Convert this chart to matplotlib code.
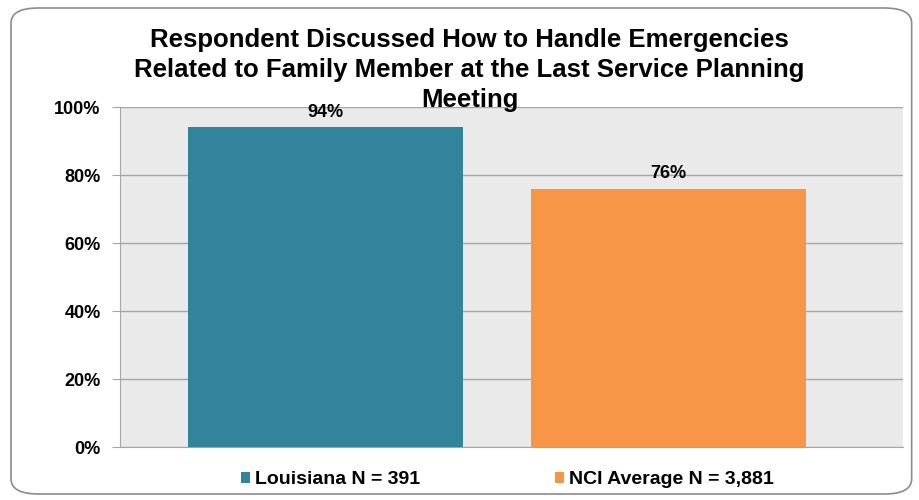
#!/usr/bin/env python3
"""
Emergency planning bar chart
"""
import matplotlib
matplotlib.use('Agg')
import matplotlib.pyplot as plt
from matplotlib.patches import FancyBboxPatch, Patch

series = ['Louisiana N = 391', 'NCI Average N = 3,881']
values = [94, 76]
colors = ['#31849B', '#F79646']
yticks = [0, 20, 40, 60, 80, 100]
title = ('Respondent Discussed How to Handle Emergencies\n'
         'Related to Family Member at the Last Service Planning\n'
         'Meeting')

plt.rcParams['font.family'] = ['Liberation Sans', 'DejaVu Sans']
plt.rcParams['font.weight'] = 'bold'

fig = plt.figure(figsize=(9.19, 5.0), dpi=100)

# rounded outer frame, drawn behind everything
frame = FancyBboxPatch((0.012, 0.012), 0.98, 0.972,
                       boxstyle='round,pad=0,rounding_size=0.03',
                       transform=fig.transFigure, facecolor='none',
                       edgecolor='#8c8c8c', linewidth=1.2, zorder=-5)
fig.patches.append(frame)

ax = fig.add_axes([0.1306, 0.106, 0.852, 0.68])
ax.set_facecolor('#EAEAEA')

x = list(range(len(values)))
ax.bar(x, values, width=0.8, color=colors, zorder=3)

for xi, v in zip(x, values):
    ax.text(xi, v + 2.0, f'{v}%', ha='center', va='bottom',
            fontsize=13, fontweight='bold', zorder=4)

ax.set_xlim(-0.598, 1.682)
ax.set_ylim(0, 100)
ax.set_yticks(yticks)
ax.set_yticklabels([f'{t}%' for t in yticks], fontsize=13, fontweight='bold')
ax.set_xticks([])
ax.yaxis.grid(True, color='#a6a6a6', linewidth=1, zorder=1)
ax.tick_params(axis='y', length=6, color='#a6a6a6', pad=8)

for s in ['top', 'right']:
    ax.spines[s].set_visible(False)
for s in ['left', 'bottom']:
    ax.spines[s].set_color('#a6a6a6')

fig.text(0.511, 0.86, title, ha='center', va='center', fontsize=18.5,
         fontweight='bold', linespacing=1.3, zorder=5)

handles = [Patch(facecolor=c, label=l) for c, l in zip(colors, series)]
fig.legend(handles=handles, loc='center', bbox_to_anchor=(0.552, 0.04),
           ncol=2, frameon=False, fontsize=14, handlelength=0.5,
           handleheight=0.5, handletextpad=0.25, columnspacing=6.9)

fig.savefig('out.png', dpi=100)
